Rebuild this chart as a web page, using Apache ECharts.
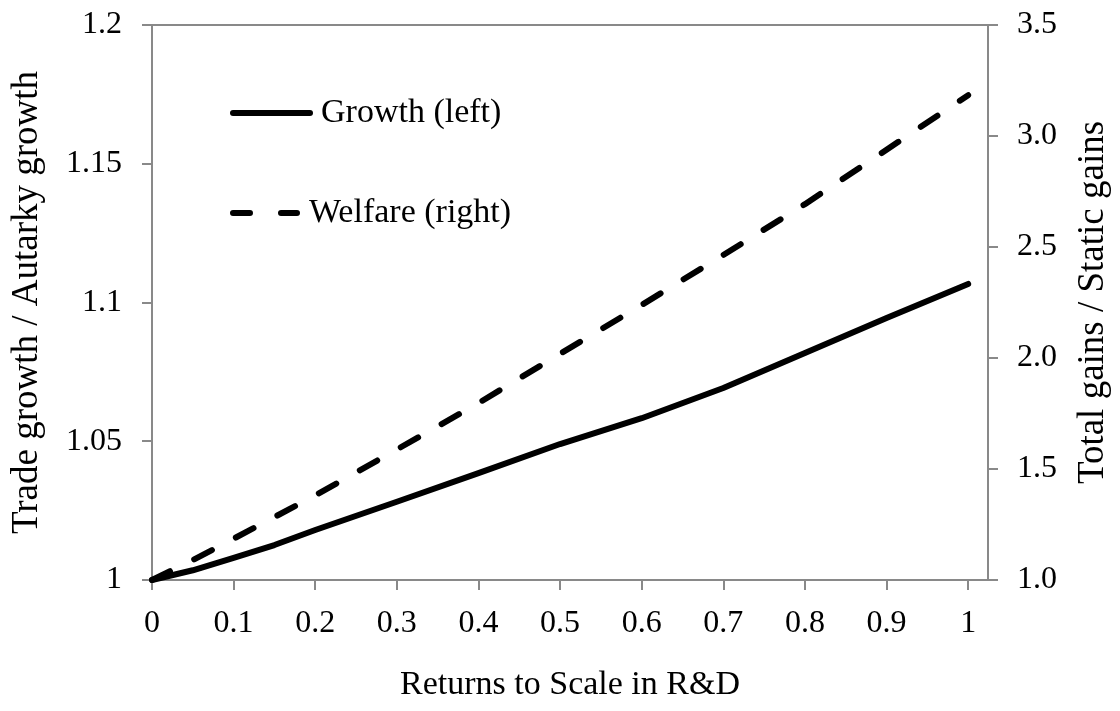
<!DOCTYPE html>
<html>
<head>
<meta charset="utf-8">
<title>Growth and welfare vs returns to scale in R&amp;D</title>
<script src="https://cdn.jsdelivr.net/npm/echarts@6/dist/echarts.min.js"></script>
<style>
  html, body { margin: 0; padding: 0; background: #ffffff; }
  #chart { width: 1120px; height: 711px; }
</style>
</head>
<body>
<div id="chart"></div>
<script>
// Returns to scale in R&D (x values)
const growthX = [0, 0.05, 0.1, 0.15, 0.2, 0.3, 0.4, 0.5, 0.6, 0.7, 0.8, 0.9, 1];
// Trade growth / autarky growth (left axis)
const growthY = [1.0, 1.0035, 1.008, 1.0126, 1.018, 1.0282, 1.0385, 1.049, 1.0583, 1.0692, 1.0818, 1.0944, 1.1067];

const welfareX = [0, 0.05, 0.1, 0.2, 0.3, 0.4, 0.5, 0.6, 0.7, 0.8, 0.9, 1];
// Total gains / static gains (right axis)
const welfareY = [1.0, 1.09, 1.186, 1.381, 1.588, 1.797, 2.019, 2.239, 2.464, 2.693, 2.938, 3.184];

// Tick labels on the horizontal axis
const xTicks = [0, 0.1, 0.2, 0.3, 0.4, 0.5, 0.6, 0.7, 0.8, 0.9, 1];

const seriesNames = ['Growth (left)', 'Welfare (right)'];

const FONT = "'Liberation Serif', 'Times New Roman', serif";
const AXIS_GREY = '#898989';
const TICK_SIZE = 32;
const TITLE_SIZE = 34;
const Y_TITLE_SIZE = 37;

const pairs = (xs, ys) => xs.map((x, i) => [x, ys[i]]);

// Legend keys: a thick solid bar and two thick dashes, both with rounded ends
const solidKey = 'path://M3,0 L80,0 A3,3 0 0 1 80,6 L3,6 A3,3 0 0 1 3,0 Z';
const dashKey = 'path://M3,0 L20,0 A3,3 0 0 1 20,6 L3,6 A3,3 0 0 1 3,0 Z ' +
                'M51,0 L67,0 A3,3 0 0 1 67,6 L51,6 A3,3 0 0 1 51,0 Z';

const greyLine = { color: AXIS_GREY, width: 2 };
const blackText = (size) => ({ fontFamily: FONT, fontSize: size, color: '#000' });

const chart = echarts.init(document.getElementById('chart'), null, { renderer: 'canvas' });

const option = {
  backgroundColor: '#ffffff',
  animation: false,
  grid: { left: 152, right: 126, top: 25, bottom: 131, containLabel: false },
  legend: [
    {
      data: [{ name: seriesNames[0], icon: solidKey }],
      left: 225, top: 91,
      itemWidth: 83, itemHeight: 6,
      symbolKeepAspect: false,
      itemStyle: { color: '#000' },
      textStyle: Object.assign(blackText(TITLE_SIZE), { padding: [0, 0, 0, 3] })
    },
    {
      data: [{ name: seriesNames[1], icon: dashKey }],
      left: 225, top: 191,
      itemWidth: 70, itemHeight: 6,
      symbolKeepAspect: false,
      itemStyle: { color: '#000' },
      textStyle: Object.assign(blackText(TITLE_SIZE), { padding: [0, 0, 0, 4] })
    }
  ],
  xAxis: [
    {
      type: 'value',
      position: 'bottom',
      min: 0, max: 1.0243,
      name: 'Returns to Scale in R&D',
      nameLocation: 'middle',
      nameGap: 88,
      nameTextStyle: blackText(TITLE_SIZE),
      axisLine: { show: true, onZero: false, lineStyle: greyLine },
      axisTick: { show: true, inside: false, length: 10, customValues: xTicks, lineStyle: greyLine },
      axisLabel: Object.assign({ customValues: xTicks, margin: 28 }, blackText(TICK_SIZE)),
      splitLine: { show: false }
    },
    {
      type: 'value',
      position: 'top',
      min: 0, max: 1.0243,
      axisLine: { show: true, onZero: false, lineStyle: greyLine },
      axisTick: { show: false },
      axisLabel: { show: false },
      splitLine: { show: false }
    }
  ],
  yAxis: [
    {
      type: 'value',
      position: 'left',
      min: 1, max: 1.2, interval: 0.05,
      name: 'Trade growth / Autarky growth',
      nameLocation: 'middle',
      nameGap: 106,
      nameRotate: 90,
      nameTextStyle: blackText(Y_TITLE_SIZE),
      axisLine: { show: true, onZero: false, lineStyle: greyLine },
      axisTick: { show: true, inside: false, length: 10, lineStyle: greyLine },
      axisLabel: Object.assign({ margin: 30 }, blackText(TICK_SIZE)),
      splitLine: { show: false }
    },
    {
      type: 'value',
      position: 'right',
      min: 1, max: 3.5, interval: 0.5,
      name: 'Total gains / Static gains',
      nameLocation: 'middle',
      nameGap: 87,
      nameRotate: 90,
      nameTextStyle: blackText(Y_TITLE_SIZE),
      axisLine: { show: true, onZero: false, lineStyle: greyLine },
      axisTick: { show: true, inside: false, length: 10, lineStyle: greyLine },
      axisLabel: Object.assign({ margin: 29, formatter: v => v.toFixed(1) }, blackText(TICK_SIZE)),
      splitLine: { show: false }
    }
  ],
  series: [
    {
      name: seriesNames[0],
      type: 'line',
      xAxisIndex: 0, yAxisIndex: 0,
      data: pairs(growthX, growthY),
      showSymbol: false, symbol: 'none',
      lineStyle: { color: '#000', width: 6, type: 'solid', cap: 'round', join: 'round' },
      itemStyle: { color: '#000' }
    },
    {
      name: seriesNames[1],
      type: 'line',
      xAxisIndex: 0, yAxisIndex: 1,
      data: pairs(welfareX, welfareY),
      showSymbol: false, symbol: 'none',
      lineStyle: { color: '#000', width: 6, type: [20, 27], cap: 'round', join: 'round' },
      itemStyle: { color: '#000' }
    }
  ]
};

chart.setOption(option);
</script>
</body>
</html>
